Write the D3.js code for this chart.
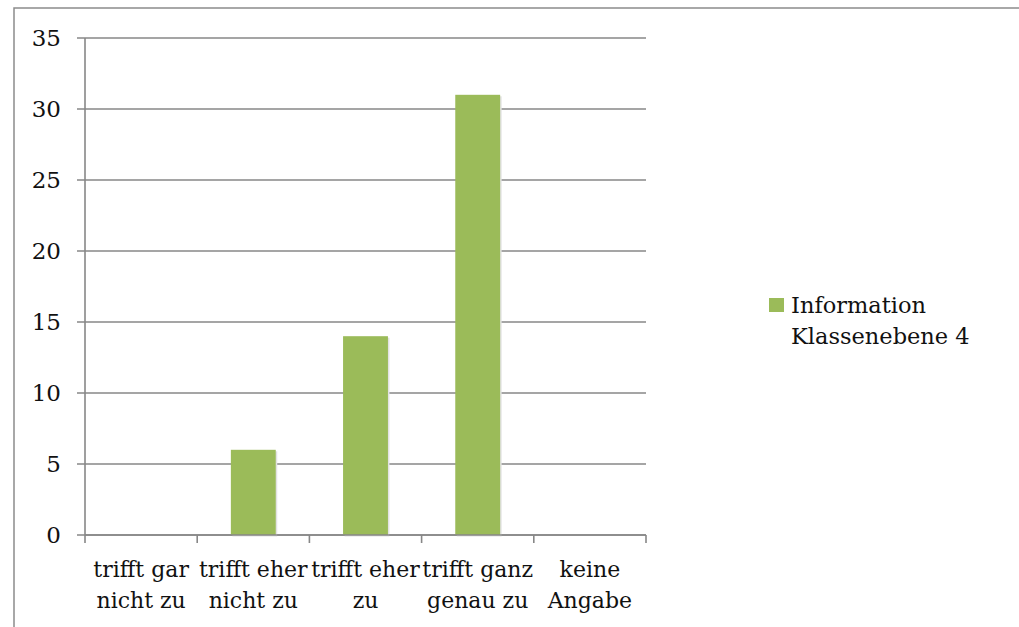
<!DOCTYPE html>
<html>
<head>
<meta charset="utf-8">
<script src="https://cdn.jsdelivr.net/npm/d3@7"></script>
<style>
body{margin:0;background:#fff;}
text{font-family:"DejaVu Serif",serif;fill:#111;}
</style>
</head>
<body>
<div class="box"></div>
<script>
// data
const categories=[['trifft gar','nicht zu'],['trifft eher','nicht zu'],['trifft eher','zu'],['trifft ganz','genau zu'],['keine','Angabe']];
const values=[0,6,14,31,0];
const seriesName=['Information','Klassenebene 4'];
const yTicks=[0,5,10,15,20,25,30,35];

const W=1019,H=627;
const svg=d3.select('.box').append('svg').attr('width',W).attr('height',H).style('background','white');

// outer frame
svg.append('rect').attr('x',14).attr('y',8).attr('width',1020).attr('height',640)
   .attr('fill','none').attr('stroke','#8c8c8c').attr('stroke-width',1.5);

const pL=85,pR=646,pT=38,pB=535;
const x=d3.scaleBand().domain(d3.range(categories.length)).range([pL,pR]).padding(0);
const y=d3.scaleLinear().domain([0,35]).range([pB,pT]);

const g=svg.append('g');

// gridlines
g.selectAll('.grid').data(yTicks).enter().append('line')
   .attr('x1',pL-8).attr('x2',pR)
   .attr('y1',d=>y(d)).attr('y2',d=>y(d))
   .attr('stroke','#878787').attr('stroke-width',1.6);

// y axis
const axeY=d3.axisLeft(y).tickValues(yTicks).tickSize(0).tickPadding(24);
const gY=g.append('g').attr('transform',`translate(${pL},0)`).call(axeY);
gY.select('.domain').remove();
gY.selectAll('text').style('font-family','"DejaVu Serif",serif').style('font-size','23px').attr('fill','#111');
g.append('line').attr('x1',pL).attr('x2',pL).attr('y1',pT).attr('y2',pB)
   .attr('stroke','#878787').attr('stroke-width',1.6);

// bars (light shadow then fill)
g.selectAll('rect.shadow').data(values).enter().append('rect')
   .attr('x',(d,i)=>x(i)+x.bandwidth()*0.3+1.5)
   .attr('width',x.bandwidth()*0.4)
   .attr('y',d=>y(d)+1.5)
   .attr('height',d=>d>0?pB-y(d):0)
   .attr('fill','#e2e2e2');
g.selectAll('rect.bar').data(values).enter().append('rect')
   .attr('class','bar')
   .attr('x',(d,i)=>x(i)+x.bandwidth()*0.3)
   .attr('width',x.bandwidth()*0.4)
   .attr('y',d=>y(d))
   .attr('height',d=>pB-y(d))
   .attr('fill','#9bbb59');

// x axis
g.append('line').attr('x1',pL).attr('x2',pR).attr('y1',pB).attr('y2',pB)
   .attr('stroke','#878787').attr('stroke-width',1.6);
const bounds=d3.range(categories.length+1).map(i=>pL+i*x.step());
g.selectAll('.xtick').data(bounds).enter().append('line')
   .attr('x1',d=>d).attr('x2',d=>d).attr('y1',pB).attr('y2',pB+8)
   .attr('stroke','#878787').attr('stroke-width',1.6);

const lab=g.selectAll('.xlab').data(categories).enter().append('text')
   .attr('text-anchor','middle').style('font-size','22px')
   .attr('transform',(d,i)=>`translate(${x(i)+x.bandwidth()/2},577)`);
lab.selectAll('tspan').data(d=>d).enter().append('tspan')
   .attr('x',0).attr('y',(d,i)=>i*31).text(d=>d);

// legend
const lg=svg.append('g').attr('transform','translate(769,298)');
lg.append('rect').attr('width',15).attr('height',14).attr('fill','#9bbb59');
lg.selectAll('text').data(seriesName).enter().append('text')
   .attr('x',22).attr('y',(d,i)=>15+i*31).style('font-size','22.5px').text(d=>d);
</script>
</body>
</html>
